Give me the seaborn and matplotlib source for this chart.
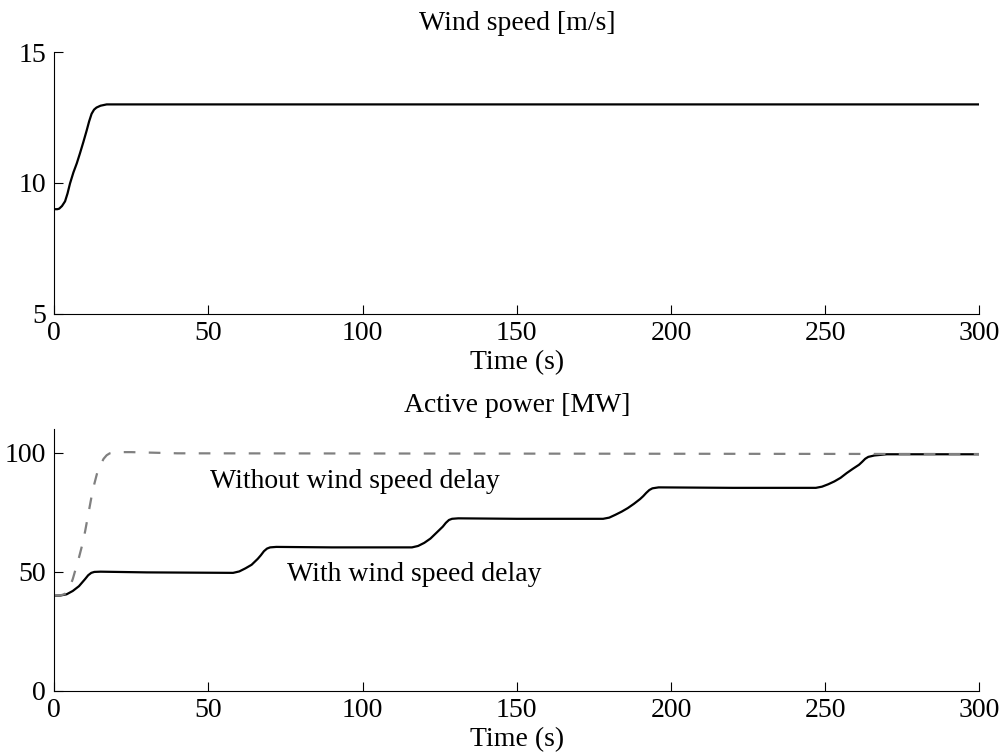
import numpy as np
import pandas as pd
import matplotlib
matplotlib.use("Agg")
import matplotlib.pyplot as plt
import seaborn as sns

# wind speed step
wind_time = [0, 1, 1.6, 2.5, 3.5, 4.3, 5.1, 6.2, 7.3, 8.3, 9.4, 10.5, 11.3, 12.1, 12.9, 13.7, 15, 17, 20, 300]
wind_speed = [9.0, 9.0, 9.02, 9.12, 9.3, 9.6, 9.98, 10.4, 10.75, 11.12, 11.55, 12.0, 12.35, 12.64, 12.8, 12.88, 12.95, 13.0, 13.0, 13.0]

# active power without wind speed delay
nodelay_time = [0, 2, 3, 4, 5, 6, 7, 8, 9, 10, 11, 12, 13, 14, 15, 16, 17, 18, 20, 25, 40, 300]
nodelay_power = [40, 40.2, 40.5, 41.2, 43.5, 47, 51.5, 56, 61, 67, 74, 81, 87, 92, 95, 97.5, 99, 99.8, 100.3, 100.3, 99.8, 99.5]

# active power with wind speed delay
delay_time = [0, 2, 4, 6, 8, 9, 10, 11, 12, 13, 15, 30, 58, 60, 62, 64, 66, 67, 68, 69, 70, 72, 90,
              116, 118, 120, 122, 124, 126, 127, 128, 129, 131, 150, 178, 180, 182, 184, 186, 188, 190,
              191, 192, 193, 194, 196, 220, 247, 249, 251, 253, 255, 257, 259, 261, 262, 263, 264, 266,
              270, 300]
delay_power = [40, 40.1, 40.6, 42, 44, 45.5, 47, 48.6, 49.6, 50, 50.1, 49.8, 49.6, 50.2, 51.5, 53, 55.5,
               57, 58.7, 59.8, 60.3, 60.5, 60.3, 60.3, 60.9, 62.2, 64, 66.5, 69, 70.6, 71.8, 72.3, 72.5,
               72.3, 72.3, 72.8, 74, 75.3, 76.8, 78.6, 80.6, 81.8, 83.2, 84.4, 85.1, 85.5, 85.3, 85.3,
               85.8, 86.8, 88, 89.5, 91.5, 93.3, 95, 96.2, 97.5, 98.3, 98.9, 99.4, 99.4]

sns.set_style("ticks")
plt.rcParams['font.family'] = ['Liberation Serif', 'DejaVu Serif']
plt.rcParams['font.size'] = 20
plt.rcParams['text.color'] = 'black'
plt.rcParams['axes.labelcolor'] = 'black'
plt.rcParams['lines.scale_dashes'] = False
plt.rcParams['axes.linewidth'] = 0.8
plt.rcParams['xtick.direction'] = 'in'
plt.rcParams['ytick.direction'] = 'in'
plt.rcParams['xtick.major.size'] = 6.5
plt.rcParams['ytick.major.size'] = 6.5
plt.rcParams['xtick.major.width'] = 0.8
plt.rcParams['ytick.major.width'] = 0.8
plt.rcParams['xtick.major.pad'] = 5
plt.rcParams['ytick.major.pad'] = 6
plt.rcParams['xtick.color'] = 'black'
plt.rcParams['ytick.color'] = 'black'
plt.rcParams['xtick.labelsize'] = 20
plt.rcParams['ytick.labelsize'] = 20
plt.rcParams['axes.edgecolor'] = 'black'

fig = plt.figure(figsize=(10.05, 7.56), dpi=100)
ax1 = fig.add_axes([0.054, 0.5847, 0.9204, 0.3465])
ax2 = fig.add_axes([0.054, 0.086, 0.9204, 0.3465])

wind = pd.DataFrame({'t': wind_time, 'v': wind_speed})
sns.lineplot(data=wind, x='t', y='v', ax=ax1, color='black', linewidth=1.6)
ax1.set_xlim(0, 300)
ax1.set_ylim(5, 15)
ax1.set_yticks([5, 10, 15])
ax1.set_xticks([0, 50, 100, 150, 200, 250, 300])
ax1.set_xlabel('Time (s)', labelpad=3, fontsize=20)
ax1.set_ylabel('')
ax1.set_title('Wind speed [m/s]', pad=16, fontsize=20)

delayed = pd.DataFrame({'t': delay_time, 'p': delay_power})
nodelay = pd.DataFrame({'t': nodelay_time, 'p': nodelay_power})
sns.lineplot(data=delayed, x='t', y='p', ax=ax2, color='black', linewidth=1.6)
sns.lineplot(data=nodelay, x='t', y='p', ax=ax2, color='#808080', linewidth=1.6)
ax2.lines[-1].set_dashes([8.4, 9.6])
ax2.set_xlim(0, 300)
ax2.set_ylim(0, 110)
ax2.set_yticks([0, 50, 100])
ax2.set_xticks([0, 50, 100, 150, 200, 250, 300])
ax2.set_xlabel('Time (s)', labelpad=3, fontsize=20)
ax2.set_ylabel('')
ax2.set_title('Active power [MW]', pad=12, fontsize=20)
ax2.text(50.5, 85.4, 'Without wind speed delay', ha='left', va='baseline', fontsize=20)
ax2.text(75.6, 46.0, 'With wind speed delay', ha='left', va='baseline', fontsize=20)

for ax in (ax1, ax2):
    sns.despine(ax=ax)

fig.savefig('out.png', dpi=100)
